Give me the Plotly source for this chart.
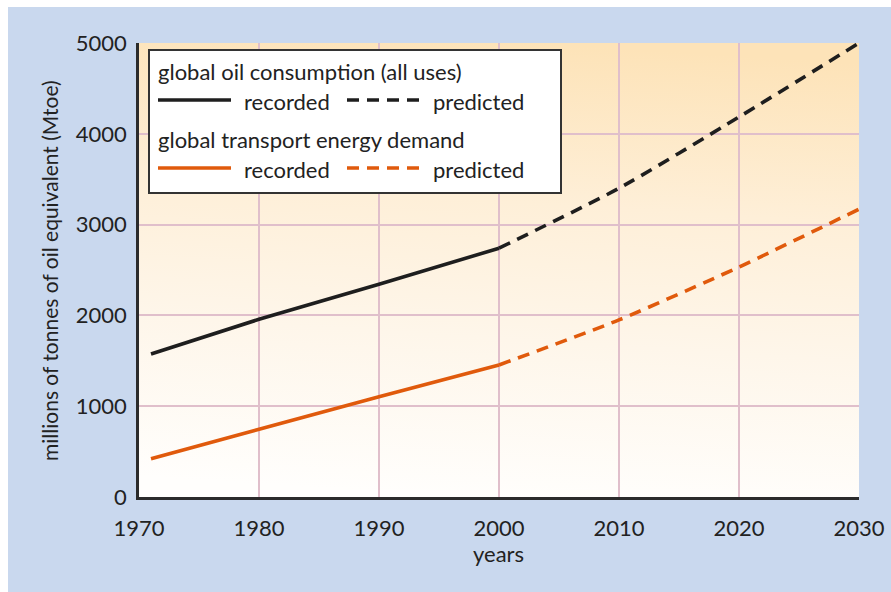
import base64
import plotly.graph_objects as go

# ---- data (Mtoe) ----
years_recorded = [1971, 1980, 1990, 2000]
oil_recorded = [1575, 1957, 2342, 2740]
transport_recorded = [422, 746, 1105, 1454]

years_predicted = [2000, 2010, 2020, 2030]
oil_predicted = [2740, 3400, 4185, 5000]
transport_predicted = [1454, 1950, 2533, 3170]

x_ticks = [1970, 1980, 1990, 2000, 2010, 2020, 2030]
y_ticks = [0, 1000, 2000, 3000, 4000, 5000]

# ---- styling ----
W, H = 891, 592
ML, MR, MT, MB = 139, 32, 43, 95
PW, PH = W - ML - MR, H - MT - MB

BLACK = "#1e1e1e"
ORANGE = "#e05a0c"
TEXT = "#222222"
FONT = "Lato"
FS = 22
PANEL = "#c9d8ee"
GRID = "#e0bfcb"
DASH = "12px,8px"
LW = 3.6


def px(x):
    return (x - ML) / PW


def py(y):
    return (H - MB - y) / PH


fig = go.Figure()

fig.add_trace(go.Scatter(x=years_recorded, y=oil_recorded, mode="lines",
                         line=dict(color=BLACK, width=LW), showlegend=False))
fig.add_trace(go.Scatter(x=years_predicted, y=oil_predicted, mode="lines",
                         line=dict(color=BLACK, width=LW, dash=DASH, shape="spline",
                                   smoothing=0.6), showlegend=False))
fig.add_trace(go.Scatter(x=years_recorded, y=transport_recorded, mode="lines",
                         line=dict(color=ORANGE, width=LW), showlegend=False))
fig.add_trace(go.Scatter(x=years_predicted, y=transport_predicted, mode="lines",
                         line=dict(color=ORANGE, width=LW, dash=DASH, shape="spline",
                                   smoothing=0.6), showlegend=False))

# warm vertical gradient behind the plotting area
svg = (
    '<svg xmlns="http://www.w3.org/2000/svg" width="100" height="100" '
    'preserveAspectRatio="none" viewBox="0 0 100 100">'
    '<defs><linearGradient id="g" x1="0.45" y1="1" x2="0.55" y2="0">'
    '<stop offset="0" stop-color="#fffefc"/>'
    '<stop offset="0.35" stop-color="#fef6ea"/>'
    '<stop offset="0.65" stop-color="#feefd8"/>'
    '<stop offset="1" stop-color="#fde3b8"/>'
    '</linearGradient></defs>'
    '<rect width="100" height="100" fill="url(#g)"/></svg>'
)
src = "data:image/svg+xml;base64," + base64.b64encode(svg.encode()).decode()

shapes = [
    # white margins above and left of the blue panel
    dict(type="rect", xref="paper", yref="paper", x0=px(0), x1=px(W + 5),
         y0=py(7), y1=py(-5), fillcolor="white", line_width=0, layer="below"),
    dict(type="rect", xref="paper", yref="paper", x0=px(-5), x1=px(8),
         y0=py(H + 5), y1=py(-5), fillcolor="white", line_width=0, layer="below"),
    # key box
    dict(type="rect", xref="paper", yref="paper", x0=px(149), x1=px(561),
         y0=py(193), y1=py(50), fillcolor="white",
         line=dict(color="#333333", width=2), layer="above"),
    # key line samples
    dict(type="line", xref="paper", yref="paper", x0=px(158), x1=px(231),
         y0=py(100), y1=py(100), line=dict(color=BLACK, width=LW)),
    dict(type="line", xref="paper", yref="paper", x0=px(347), x1=px(421),
         y0=py(100), y1=py(100), line=dict(color=BLACK, width=LW, dash=DASH)),
    dict(type="line", xref="paper", yref="paper", x0=px(158), x1=px(231),
         y0=py(168), y1=py(168), line=dict(color=ORANGE, width=LW)),
    dict(type="line", xref="paper", yref="paper", x0=px(347), x1=px(421),
         y0=py(168), y1=py(168), line=dict(color=ORANGE, width=LW, dash=DASH)),
]

key_font = dict(family=FONT, size=FS, color=TEXT)
annotations = [
    dict(text="global oil consumption (all uses)", x=px(156), y=py(71)),
    dict(text="recorded", x=px(242), y=py(101)),
    dict(text="predicted", x=px(431), y=py(101)),
    dict(text="global transport energy demand", x=px(156), y=py(139)),
    dict(text="recorded", x=px(242), y=py(169)),
    dict(text="predicted", x=px(431), y=py(169)),
]
annotations = [dict(a, xref="paper", yref="paper", xanchor="left", yanchor="middle",
                    showarrow=False, font=key_font) for a in annotations]
annotations += [
    dict(text="years", x=px(498), y=py(553), xref="paper", yref="paper",
         xanchor="center", yanchor="middle", showarrow=False,
         font=dict(family=FONT, size=FS, color=TEXT)),
    dict(text="millions of tonnes of oil equivalent (Mtoe)", x=px(49), y=py(271),
         xref="paper", yref="paper", xanchor="center", yanchor="middle",
         textangle=-90, showarrow=False, font=dict(family=FONT, size=21, color=TEXT)),
]

fig.update_layout(
    width=W, height=H,
    margin=dict(l=ML, r=MR, t=MT, b=MB, pad=0, autoexpand=False),
    paper_bgcolor=PANEL,
    plot_bgcolor="rgba(0,0,0,0)",
    font=dict(family=FONT, size=FS, color=TEXT),
    shapes=shapes,
    annotations=annotations,
    images=[dict(source=src, xref="paper", yref="paper", x=0, y=1, sizex=1, sizey=1,
                 sizing="stretch", xanchor="left", yanchor="top", layer="below")],
    xaxis=dict(range=[1970, 2030], tickvals=x_ticks, showgrid=True, gridcolor=GRID,
               gridwidth=1.5, showline=True, linecolor="#2b2b2b", linewidth=2.5,
               zeroline=False, ticks="", ticklabelstandoff=10, automargin=False,
               tickfont=dict(family=FONT, size=FS, color=TEXT)),
    yaxis=dict(range=[0, 5000], tickvals=y_ticks, showgrid=True, gridcolor=GRID,
               gridwidth=1.5, showline=True, linecolor="#2b2b2b", linewidth=2.5,
               zeroline=False, ticks="", ticklabelstandoff=5, automargin=False,
               tickfont=dict(family=FONT, size=FS, color=TEXT)),
)

fig.write_html("out.html")
